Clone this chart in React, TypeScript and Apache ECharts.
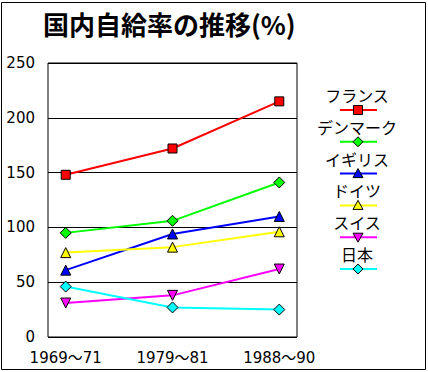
import React, { useEffect, useRef } from "react";
import * as echarts from "echarts";

const titleText = "国内自給率の推移(%)";
const categories = ["1969～71", "1979～81", "1988～90"];
const seriesNames = ["フランス", "デンマーク", "イギリス", "ドイツ", "スイス", "日本"];
const france = [148, 172, 215];
const denmark = [95, 106, 141];
const uk = [61, 94, 110];
const germany = [77, 82, 96];
const swiss = [31, 38, 62];
const japan = [46, 27, 25];
const seriesColors = ["#ff0000", "#00ff00", "#0000ff", "#ffff00", "#ff00ff", "#00ffff"];
const seriesSymbols = ["rect", "diamond", "triangle", "triangle", "triangleDown", "diamond"];
const yMin = 0;
const yMax = 250;
const yInterval = 50;

const allValues = [france, denmark, uk, germany, swiss, japan];

const CJK = "'Noto Sans CJK JP', sans-serif";
const NUM = "'DejaVu Sans', 'Noto Sans CJK JP', sans-serif";

function symbolSize(kind: string) {
  return kind === "rect" ? 9 : kind === "diamond" ? 11 : 10;
}

function legendSymbol(kind: string, cx: number, cy: number, color: string) {
  const style = { fill: color, stroke: "#000", lineWidth: 1 };
  if (kind === "rect") {
    return { type: "rect", shape: { x: cx - 4.5, y: cy - 4.5, width: 9, height: 9 }, style, z: 11 };
  }
  let pts: number[][];
  if (kind === "diamond") pts = [[cx, cy - 5], [cx + 5, cy], [cx, cy + 5], [cx - 5, cy]];
  else if (kind === "triangle") pts = [[cx, cy - 5], [cx + 5, cy + 4], [cx - 5, cy + 4]];
  else pts = [[cx, cy + 5], [cx + 5, cy - 4], [cx - 5, cy - 4]];
  return { type: "polygon", shape: { points: pts }, style, z: 11 };
}

export default function App() {
  const ref = useRef<HTMLDivElement>(null);
  useEffect(() => {
    if (!ref.current) return;
    const chart = echarts.init(ref.current, null, { renderer: "svg" });

    const series = seriesNames.map((name, i) => {
      const kind = seriesSymbols[i];
      return {
        name,
        type: "line",
        data: allValues[i].map((v, j) => [j, v]),
        symbol: kind === "triangleDown" ? "triangle" : kind,
        symbolRotate: kind === "triangleDown" ? 180 : 0,
        symbolSize: symbolSize(kind),
        lineStyle: { color: seriesColors[i], width: 2 },
        itemStyle: { color: seriesColors[i], borderColor: "#000", borderWidth: 1 },
      };
    });

    const legendItems: any[] = [];
    seriesNames.forEach((name, i) => {
      const ty = 95 + 31.8 * i;
      const ly = 110 + 31.8 * i;
      legendItems.push({
        type: "text",
        style: {
          text: name,
          x: 357,
          y: ty,
          align: "center",
          verticalAlign: "middle",
          fill: "#000",
          font: `16px ${CJK}`,
        },
        z: 10,
      });
      legendItems.push({
        type: "line",
        shape: { x1: 340, y1: ly, x2: 377, y2: ly },
        style: { stroke: seriesColors[i], lineWidth: 2 },
        z: 10,
      });
      legendItems.push(legendSymbol(seriesSymbols[i], 358, ly, seriesColors[i]));
    });

    chart.setOption({
      animation: false,
      backgroundColor: "#ffffff",
      title: {
        text: titleText,
        left: 43,
        top: 10,
        padding: 0,
        textStyle: { fontSize: 26, fontWeight: "bold", color: "#000", fontFamily: CJK },
      },
      grid: {
        left: 48,
        right: 131,
        top: 63,
        bottom: 35,
        show: true,
        borderColor: "#000",
        borderWidth: 1,
        backgroundColor: "transparent",
      },
      xAxis: {
        type: "value",
        min: -0.166,
        max: 2.166,
        axisLine: { show: false },
        axisTick: { show: false },
        splitLine: { show: false },
        axisLabel: {
          customValues: [0, 1, 2],
          formatter: (v: number) => categories[Math.round(v)] ?? "",
          color: "#000",
          fontSize: 15,
          fontFamily: NUM,
          margin: 13,
        },
      },
      yAxis: {
        type: "value",
        min: yMin,
        max: yMax,
        interval: yInterval,
        axisLine: { show: false },
        axisTick: { show: false },
        splitLine: { show: true, lineStyle: { color: "#000", width: 1 } },
        axisLabel: { color: "#000", fontSize: 15, fontFamily: NUM, margin: 13 },
      },
      series,
      graphic: [
        {
          type: "rect",
          shape: { x: 1.5, y: 2.5, width: 424, height: 367 },
          style: { fill: "none", stroke: "#000", lineWidth: 1 },
          silent: true,
        },
        ...legendItems,
      ],
    });
    return () => chart.dispose();
  }, []);
  return (
    <div
      ref={ref}
      style={{ position: "fixed", left: 0, top: 0, width: 428, height: 372, background: "#fff" }}
    />
  );
}
